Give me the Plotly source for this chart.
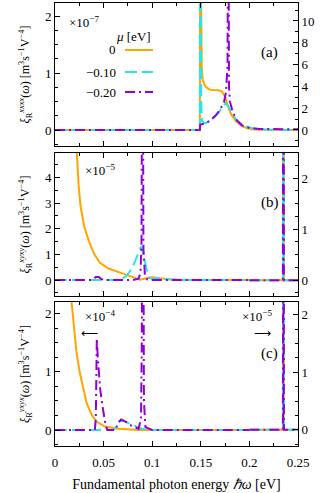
import plotly.graph_objects as go

# ---------------- data ----------------
# Panel (a): below the onset, on the left axis (x10^-7)
a_pre_x = [0, 0.148]
a_pre_orange = [0, 0]
a_pre_cyan = [0, 0]
a_pre_purple = [0, 0]
# Panel (a): from the onset on, in units of the right axis
a_orange_x = [0.148, 0.1490, 0.1495, 0.1500, 0.1505, 0.1510, 0.1520, 0.1546, 0.158, 0.161, 0.168, 0.1715, 0.175, 0.178, 0.1814, 0.1866, 0.193, 0.2019, 0.21, 0.25]
a_orange_y = [0, 0, 20, 12, 7.5, 5.6, 4.6, 4.0, 3.75, 3.67, 3.65, 3.55, 3.06, 2.14, 1.38, 0.76, 0.3, 0.06, 0.02, 0]

a_cyan_x = [0.148, 0.1490, 0.1495, 0.1500, 0.1505, 0.1512, 0.1546, 0.161, 0.168, 0.173, 0.1755, 0.1786, 0.183, 0.188, 0.195, 0.205, 0.22, 0.25]
a_cyan_y = [0, 0, 20, 8, 2.5, 0.8, 0.6, 0.92, 1.53, 2.2, 2.45, 2.14, 1.38, 0.76, 0.37, 0.12, 0.03, 0]

a_purple_x = [0.148, 0.1490, 0.1495, 0.155, 0.160, 0.165, 0.170, 0.174, 0.176, 0.1775, 0.1780, 0.1785, 0.1790, 0.180, 0.183, 0.187, 0.192, 0.200, 0.210, 0.25]
a_purple_y = [0, 0, 0.5, 0.6, 0.9, 1.3, 1.9, 2.6, 3.5, 6, 20, 20, 4, 2.6, 1.6, 0.9, 0.45, 0.18, 0.1, 0.06]

# Panel (b): left axis (x10^-5)
b_orange_x = [0.018, 0.0215, 0.0225, 0.0243, 0.0262, 0.0300, 0.0350, 0.0405, 0.0460, 0.0550, 0.0686, 0.0789, 0.0874, 0.0943, 0.1000, 0.1080, 0.1200, 0.1500, 0.2000]
b_orange_y = [8, 5.6, 4.8, 3.7, 2.9, 2.1, 1.5, 1.0, 0.68, 0.45, 0.27, 0.14, 0.01, 0.07, 0.11, 0.07, 0.02, 0.0, 0.0]

b_cyan_x = [0, 0.060, 0.068, 0.072, 0.076, 0.079, 0.082, 0.084, 0.0865, 0.0885, 0.0895, 0.091, 0.0925, 0.0943, 0.097, 0.100, 0.105, 0.112, 0.13, 0.2]
b_cyan_y = [0, 0, 0.03, 0.12, 0.28, 0.46, 0.7, 0.91, 1.15, 1.3, 1.25, 0.95, 0.65, 0.42, 0.12, 0.03, 0.08, 0.04, 0, 0]

b_purple_x = [0, 0.038, 0.042, 0.045, 0.048, 0.052, 0.080, 0.086, 0.088, 0.0890, 0.0895, 0.0905, 0.0910, 0.0925, 0.095, 0.10, 0.2]
b_purple_y = [0, 0, 0.12, 0.12, 0.03, 0, 0, 0.05, 0.3, 1.5, 8, 8, 1.2, 0.2, 0.02, 0, 0]

# Panel (c): left axis (x10^-4)
c_orange_x = [0.012, 0.0171, 0.0199, 0.0223, 0.0257, 0.0291, 0.0326, 0.0377, 0.0429, 0.0514, 0.065, 0.086, 0.2]
c_orange_y = [4, 2.19, 1.71, 1.31, 0.97, 0.69, 0.46, 0.26, 0.14, 0.06, 0.02, 0, 0]

c_cyan_x = [0, 0.060, 0.063, 0.066, 0.070, 0.075, 0.080, 0.085, 0.090, 0.095, 0.2]
c_cyan_y = [0, 0, 0.05, 0.15, 0.16, 0.12, 0.08, 0.05, 0.02, 0, 0]

c_purple_x = [0, 0.041, 0.0420, 0.0425, 0.0430, 0.0440, 0.0450, 0.0465, 0.0485, 0.0505, 0.0520, 0.054, 0.062, 0.065, 0.068, 0.072, 0.077, 0.082, 0.086, 0.0885, 0.0893, 0.0900, 0.0907, 0.0915, 0.093, 0.10, 0.2]
c_purple_y = [0, 0, 0.2, 1.0, 1.57, 1.25, 1.0, 0.7, 0.45, 0.2, 0.08, 0, 0.0, 0.12, 0.18, 0.15, 0.09, 0.05, 0.02, 0.2, 1.5, 5, 5, 0.5, 0.05, 0, 0]

# Panels (b) and (c): right-axis part (x10^-5), the same for all three mu
spike_x = [0.20, 0.2345, 0.2348, 0.2352, 0.2355, 0.25]
spike_y = [0, 0, 10, 10, 0, 0]

mu_labels = ["0", "\u22120.10", "\u22120.20"]
x_ticks = [0, 0.05, 0.1, 0.15, 0.2, 0.25]
x_minor = [0.025, 0.075, 0.125, 0.175, 0.225]

# ---------------- styles ----------------
ORANGE = "#FFA500"
CYAN = "#27E6E6"
PURPLE = "#9400D3"
styles = [
    dict(color=ORANGE, width=2),
    dict(color=CYAN, width=2, dash="12px,5px"),
    dict(color=PURPLE, width=2, dash="10px,4px,2px,4px"),
]
FONT = "'Liberation Serif', 'Times New Roman', serif"

W, H = 320, 493
L, R, T, B = 55, 298, 3, 446


def px(x):
    return (x - L) / (R - L)


def py(y):
    return (B - y) / (B - T)


fig = go.Figure()


def add(x, y, xa, ya, st):
    fig.add_trace(go.Scatter(x=x, y=y, xaxis=xa, yaxis=ya, mode="lines",
                             line=st, showlegend=False, hoverinfo="skip"))


# panel (a)
add(a_pre_x, a_pre_orange, "x", "y", styles[0])
add(a_pre_x, a_pre_cyan, "x", "y", styles[1])
add(a_pre_x, a_pre_purple, "x", "y", styles[2])
add(a_orange_x, a_orange_y, "x", "y2", styles[0])
add(a_cyan_x, a_cyan_y, "x", "y2", styles[1])
add(a_purple_x, a_purple_y, "x", "y2", styles[2])
# panel (b)
add(b_orange_x, b_orange_y, "x2", "y3", styles[0])
add(b_cyan_x, b_cyan_y, "x2", "y3", styles[1])
add(b_purple_x, b_purple_y, "x2", "y3", styles[2])
for st in styles:
    add(spike_x, spike_y, "x2", "y4", st)
# panel (c)
add(c_orange_x, c_orange_y, "x3", "y5", styles[0])
add(c_cyan_x, c_cyan_y, "x3", "y5", styles[1])
add(c_purple_x, c_purple_y, "x3", "y5", styles[2])
for st in styles:
    add(spike_x, spike_y, "x3", "y6", st)

tickfont = dict(family=FONT, size=13, color="black")


def xax(anchor, labels):
    return dict(anchor=anchor, domain=[0, 1], range=[0, 0.25], tickmode="array", tickvals=x_ticks,
                ticktext=[("%g" % v) for v in x_ticks], showticklabels=labels,
                ticks="inside", ticklen=5, tickwidth=1, tickcolor="black",
                minor=dict(tickmode="array", tickvals=x_minor, ticks="inside", ticklen=3, tickcolor="black"),
                showline=True, linecolor="black", linewidth=1, mirror="ticks",
                showgrid=False, zeroline=False, tickfont=tickfont, ticklabelstandoff=4)


def yax(anchor, domain, rng, dtick, mdtick, side="left", overlaying=None, title=None):
    d = dict(anchor=anchor, range=rng, dtick=dtick, tick0=0, side=side,
             ticks="inside", ticklen=5, tickwidth=1, tickcolor="black",
             minor=dict(dtick=mdtick, tick0=0, ticks="inside", ticklen=3, tickcolor="black"),
             showline=True, linecolor="black", linewidth=1,
             showgrid=False, zeroline=False, tickfont=tickfont)
    if overlaying:
        d["overlaying"] = overlaying
    else:
        d["domain"] = domain
    if title:
        d["title"] = dict(text=title, font=dict(family=FONT, size=12, color="black"), standoff=12)
    return d


def ytitle(sup):
    return ("<i>\u03be</i><sub>R</sub><sup><i>" + sup + "</i></sup>(<i>\u03c9</i>)"
            " [m<sup>3</sup>s<sup>\u22121</sup>V<sup>\u22124</sup>]")


dom_a = [py(146), py(3)]
dom_b = [py(296), py(153)]
dom_c = [py(446), py(302)]

annotations = []


def ann(text, x, y, size=13, xanchor="center"):
    annotations.append(dict(text=text, x=px(x), y=py(y), xref="paper", yref="paper",
                            showarrow=False, xanchor=xanchor, yanchor="middle",
                            font=dict(family=FONT, size=size, color="black")))


ann("\u00d710<sup>\u22127</sup>", 84, 22)
ann("(a)", 269, 53, size=15)
ann("<i>\u03bc</i> [eV]", 133, 37)
for lab, yy in zip(mu_labels, [50, 72, 92]):
    ann(lab, 118, yy, xanchor="right")
ann("\u00d710<sup>\u22125</sup>", 100, 170)
ann("(b)", 270, 203, size=15)
ann("\u00d710<sup>\u22124</sup>", 100, 316)
ann("\u27f5", 89, 333, size=12)
ann("\u00d710<sup>\u22125</sup>", 257, 316)
ann("\u27f6", 262, 333, size=12)
ann("(c)", 269, 353, size=15)

shapes = []
for st, yy in zip(styles, [50, 72, 92]):
    shapes.append(dict(type="line", xref="paper", yref="paper", x0=px(125), x1=px(153),
                       y0=py(yy), y1=py(yy), line=st))

fig.update_layout(
    width=W, height=H,
    margin=dict(l=L, r=W - R, t=T, b=H - B, pad=0, autoexpand=False),
    paper_bgcolor="white", plot_bgcolor="white",
    showlegend=False,
    font=dict(family=FONT, size=13, color="black"),
    xaxis=xax("y", False),
    xaxis2=xax("y3", False),
    xaxis3=xax("y5", True),
    yaxis=yax("x", dom_a, [-0.28, 2.23], 1, 0.25, title=ytitle("xxxx")),
    yaxis2=yax("x", None, [-1.47, 11.65], 2, 1, side="right", overlaying="y"),
    yaxis3=yax("x2", dom_b, [-0.625, 4.96], 1, 0.5, title=ytitle("xyxy")),
    yaxis4=yax("x2", None, [-0.31, 2.49], 1, 0.25, side="right", overlaying="y3"),
    yaxis5=yax("x3", dom_c, [-0.275, 2.2], 1, 0.25, title=ytitle("yxyx")),
    yaxis6=yax("x3", None, [-0.28, 2.22], 1, 0.25, side="right", overlaying="y5"),
    annotations=annotations,
    shapes=shapes,
)
fig.layout.xaxis3.title = dict(text="Fundamental photon energy <i>\u210f\u03c9</i> [eV]",
                               font=dict(family=FONT, size=14, color="black"), standoff=10)

fig.write_html("out.html", config={"displayModeBar": False},
               post_script="document.body.style.margin='0px';")
